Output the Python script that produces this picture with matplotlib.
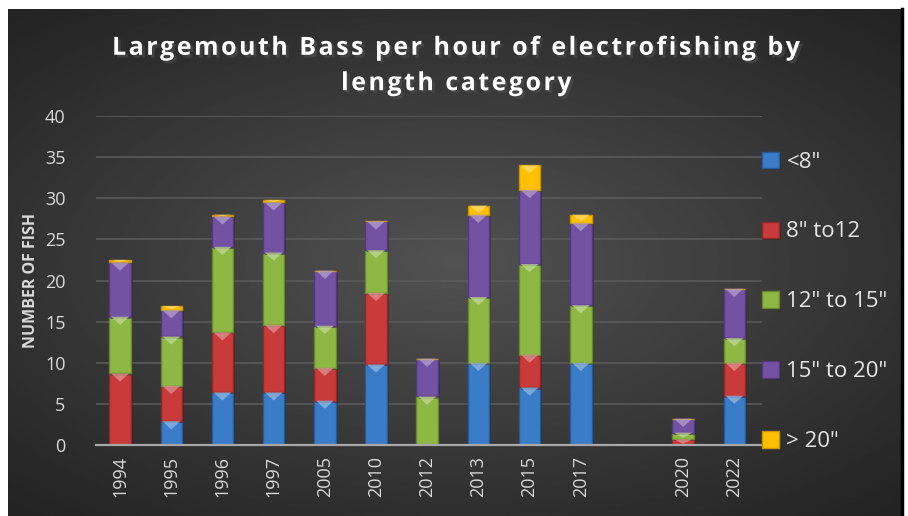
import numpy as np
import matplotlib
matplotlib.use("Agg")
import matplotlib.pyplot as plt
import matplotlib.patheffects as pe
from matplotlib.patches import Polygon
from matplotlib.colors import to_rgb

# survey years (the blank one is the empty slot between 2017 and 2020)
years = ["1994", "1995", "1996", "1997", "2005", "2010", "2012",
         "2013", "2015", "2017", "", "2020", "2022"]

under_8 = [0, 2.9, 6.4, 6.4, 5.4, 9.8, 0, 10, 7, 10, 0, 0, 6]
from_8_to_12 = [8.7, 4.3, 7.3, 8.2, 4.0, 8.7, 0, 0, 4, 0, 0, 0.7, 4]
from_12_to_15 = [6.9, 6.0, 10.4, 8.8, 5.1, 5.2, 5.9, 8, 11, 7, 0, 0.8, 3]
from_15_to_20 = [6.6, 3.2, 3.7, 6.1, 6.7, 3.5, 4.6, 10, 9, 10, 0, 1.7, 6]
over_20 = [0.3, 0.5, 0.2, 0.3, 0, 0, 0, 1.1, 3, 1, 0, 0, 0]

series = [under_8, from_8_to_12, from_12_to_15, from_15_to_20, over_20]
labels = ['<8"', '8" to12', '12" to 15"', '15" to 20"', '> 20"']
colors = ["#3b7cc9", "#c93a3a", "#8db843", "#7452a3", "#ffc000"]
edges = ["#2a5a96", "#8f2828", "#66862f", "#52397a", "#c79500"]

TITLE = "Largemouth Bass per hour of electrofishing by\nlength category"


def spaced(s, gap="\u200a"):
    # crude letter spacing: hair space between glyphs
    return "\n".join(gap.join(line) for line in s.split("\n"))


fig = plt.figure(figsize=(9.08, 5.16), dpi=100)
fig.patch.set_facecolor("white")

# dark panel with a soft radial glow in the middle
bg = fig.add_axes([8 / 908, 0, (901 - 8) / 908, 1 - 9 / 516])
yy, xx = np.mgrid[-1:1:300j, -1:1:500j]
r = np.sqrt(xx ** 2 + (yy / 0.9) ** 2)
shade = np.clip(1 - r / 1.45, 0, 1)
bg.imshow(0.14 + 0.18 * shade, cmap="gray", vmin=0, vmax=1, aspect="auto",
          extent=[0, 1, 0, 1], interpolation="bilinear")
bg.set_axis_off()
fig.add_artist(plt.Line2D([902 / 908, 902 / 908], [0, 1 - 9 / 516],
                          color="black", lw=2.5, transform=fig.transFigure))

ax = fig.add_axes([96 / 908, 1 - 445 / 516, (762 - 96) / 908, (445 - 116) / 516])
ax.patch.set_alpha(0)

x = np.arange(len(years))
bottom = np.zeros(len(years))
handles = []
for vals, lab, col, ec in zip(series, labels, colors, edges):
    vals = np.array(vals, dtype=float)
    bars = ax.bar(x, vals, width=0.42, bottom=bottom, color=col, edgecolor=ec,
                  linewidth=1.0, label=lab, zorder=3)
    light = tuple(0.55 * np.array(to_rgb(col)) + 0.45)
    for b in bars:
        b.set_path_effects([pe.SimplePatchShadow(offset=(1.5, -1.5), alpha=0.4),
                            pe.Normal()])
        h = b.get_height()
        if h <= 0:
            continue
        # bevel highlight on top of each segment
        x0, w, top = b.get_x(), b.get_width(), b.get_y() + h
        dip = min(1.0, h * 0.8)
        ax.add_patch(Polygon([(x0 + w * 0.08, top), (x0 + w * 0.92, top),
                              (x0 + w / 2, top - dip)], closed=True,
                             facecolor=light, edgecolor="none", alpha=0.75,
                             zorder=4))
    handles.append(bars)
    bottom += vals

ax.set_ylim(0, 40)
ax.set_xlim(-0.47, 12.54)
ax.set_yticks(range(0, 41, 5))
ax.set_xticks(x)
ax.set_xticklabels(years, rotation=90)
ax.grid(axis="y", color="#5a5a5a", lw=1.2, zorder=0)
ax.set_axisbelow(True)
for s in ["top", "right", "left"]:
    ax.spines[s].set_visible(False)
ax.spines["bottom"].set_color("#a8a8a8")
ax.spines["bottom"].set_linewidth(1.6)
ax.spines["bottom"].set_zorder(5)
ax.tick_params(axis="both", length=0, colors="#d9d9d9", labelsize=13)
ax.tick_params(axis="y", pad=22)
ax.tick_params(axis="x", pad=8)
for t in ax.get_xticklabels() + ax.get_yticklabels():
    t.set_fontfamily("Open Sans")

ax.set_ylabel("NUMBER OF FISH", color="#d9d9d9", fontsize=11.5,
              fontweight="bold", fontfamily="Open Sans", labelpad=4)

leg = ax.legend(handles=handles, loc="center left", bbox_to_anchor=(1.0, 0.435),
                frameon=False, labelspacing=2.2, borderaxespad=0, borderpad=0,
                handlelength=0.75, handleheight=0.75, handletextpad=0.35,
                prop={"family": "Open Sans", "size": 16})
for t in leg.get_texts():
    t.set_color("#e6e6e6")

fig.text(0.503, 1 - 66 / 516, spaced(TITLE),
         ha="center", va="center", color="white", fontsize=18,
         fontweight="bold", fontfamily=["Open Sans", "DejaVu Sans"],
         linespacing=1.55,
         path_effects=[pe.withSimplePatchShadow(offset=(2, -2), alpha=0.6)])

fig.savefig("out.png", dpi=100, facecolor=fig.get_facecolor())
